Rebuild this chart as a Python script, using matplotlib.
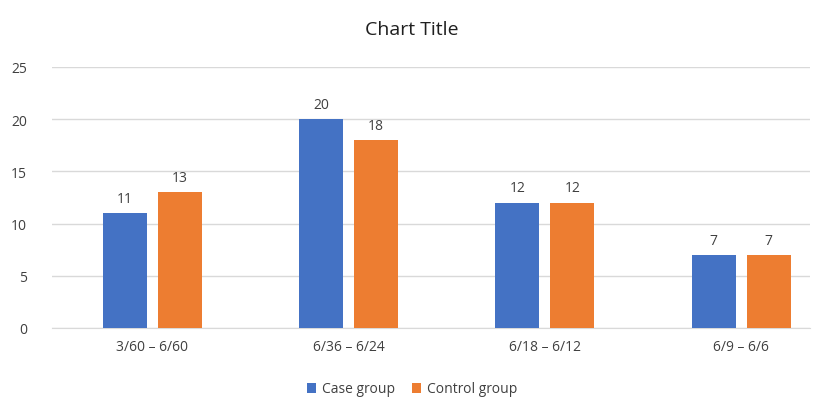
import matplotlib
matplotlib.use("Agg")
import matplotlib.pyplot as plt
import numpy as np

plt.rcParams["font.family"] = "Open Sans"

categories = ["3/60 – 6/60", "6/36 – 6/24", "6/18 – 6/12", "6/9 – 6/6"]
case_group = [11, 20, 12, 7]
control_group = [13, 18, 12, 7]

fig = plt.figure(figsize=(8.24, 4.10), dpi=100)
ax = fig.add_axes([52/824, 81/410, (810-52)/824, (329-68)/410])
x = np.arange(len(categories))
w = 0.225
off = 0.14
b1 = ax.bar(x - off, case_group, w, color="#4472C4", label="Case group", zorder=3)
b2 = ax.bar(x + off, control_group, w, color="#ED7D31", label="Control group", zorder=3)
for bars in (b1, b2):
    for r in bars:
        ax.text(r.get_x() + r.get_width()/2, r.get_height() + 0.7, f"{int(r.get_height())}",
                ha="center", va="bottom", fontsize=10, color="#404040")
ax.set_xlim(-0.51, 3.35)
ax.set_ylim(0, 25)
ax.set_yticks(range(0, 26, 5))
ax.set_xticks(x)
ax.set_xticklabels(categories)
ax.grid(axis="y", color="#D9D9D9", linewidth=1, zorder=0)
for s in ["top", "right", "left"]:
    ax.spines[s].set_visible(False)
ax.spines["bottom"].set_color("#D9D9D9")
ax.tick_params(length=0, labelsize=10, colors="#404040", pad=8)
ax.tick_params(axis="y", pad=18)
fig.text(0.5, 30/410 * -1 + 1, "Chart Title", ha="center", va="center", fontsize=14, color="#202020")
fig.legend(handles=[b1, b2], loc="center", bbox_to_anchor=(0.5, 1 - 390/410), ncol=2,
           frameon=False, fontsize=10, handlelength=0.7, handleheight=0.7, columnspacing=1.2,
           handletextpad=0.4, labelcolor="#404040")
fig.savefig("out.png", dpi=100)
